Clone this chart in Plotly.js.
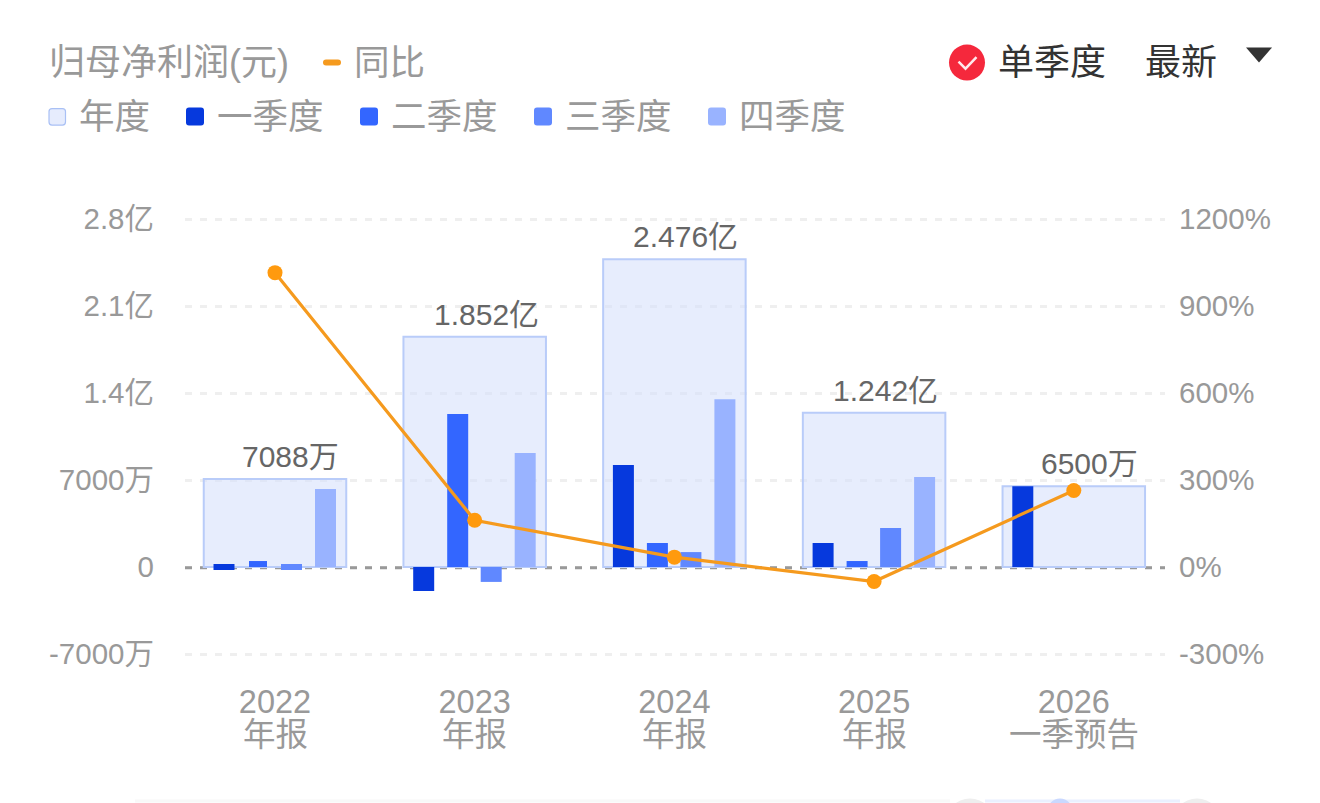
<!DOCTYPE html>
<html><head><meta charset="utf-8">
<script src="https://cdn.plot.ly/plotly-3.0.1.min.js"></script>
<style>html,body{margin:0;padding:0;background:#fff;overflow:hidden}</style></head>
<body><div id="chart" style="width:1320px;height:803px"></div>
<script>
// Data (profit in units of 万元, YoY in %)
const years = ['2022','2023','2024','2025','2026'];
const periods = ['年报','年报','年报','年报','一季预告'];
const annual = [7088,18520,24760,12420,6500];
const annualLabels = ['7088万','1.852亿','2.476亿','1.242亿','6500万'];
const q1 = [480,-1930,8200,1930,6500];
const q1Base = [-240,0,0,0,0];
const q2 = [480,12310,1930,480,0];
const q3 = [480,-1200,1200,3140,0];
const q3Base = [-240,0,0,0,0];
const q4 = [6275,9170,13500,7240,0];
const yoy = [1015,161,34,-50,264];
const leftTickVals = [28000,21000,14000,7000,0,-7000];
const leftTickText = ['2.8亿','2.1亿','1.4亿','7000万','0','-7000万'];
const rightTickVals = [1200,900,600,300,0,-300];
const rightTickText = ['1200%','900%','600%','300%','0%','-300%'];

const FONT = '"Liberation Sans","Noto Sans CJK SC",sans-serif';
const GRAY='#999999', DARK='#333333', MID='#666666';
const C_Y='rgba(214,224,252,0.58)', C_YS='#E6ECFD', C_YB='#B9CCF9', C1='#0639DD', C2='#3366FF', C3='#6088FF', C4='#99B3FF', OR='#F59A1E';

// plot box is 4px larger than the outer gridlines so those are not clipped
const PAD=4, PL=185, PR=1165, PT=219.4-PAD, PB=654.4+PAD;
const X=p=>(p-PL)/(PR-PL), Y=p=>(PB-p)/(PB-PT);
const U=199.7;
const rr=(x0,y0,x1,y1,r)=>`M${X(x0+r)},${Y(y0)} L${X(x1-r)},${Y(y0)} Q${X(x1)},${Y(y0)} ${X(x1)},${Y(y0+r)} L${X(x1)},${Y(y1-r)} Q${X(x1)},${Y(y1)} ${X(x1-r)},${Y(y1)} L${X(x0+r)},${Y(y1)} Q${X(x0)},${Y(y1)} ${X(x0)},${Y(y1-r)} L${X(x0)},${Y(y0+r)} Q${X(x0)},${Y(y0)} ${X(x0+r)},${Y(y0)} Z`;
const pathShape=(path,fill,line,lw)=>({type:'path',xref:'paper',yref:'paper',path,fillcolor:fill,line:{color:line||'rgba(0,0,0,0)',width:lw||0},layer:'above'});
const rect=(x0,y0,x1,y1,fill)=>({type:'rect',xref:'paper',yref:'paper',x0:X(x0),x1:X(x1),y0:Y(y1),y1:Y(y0),fillcolor:fill,line:{width:0},layer:'below'});
const circ=(cx,cy,r,fill,layer)=>({type:'circle',xref:'paper',yref:'paper',x0:X(cx-r),x1:X(cx+r),y0:Y(cy+r),y1:Y(cy-r),fillcolor:fill,line:{width:0},layer:layer||'above'});
const txt=(text,x,y,color,size,anchor)=>({text,xref:'paper',yref:'paper',x:X(x),y:Y(y),xanchor:anchor||'left',yanchor:'middle',showarrow:false,font:{family:FONT,size,color},borderpad:0});

const qBar=(name,vals,offPx,color,extra)=>Object.assign({type:'bar',name,x:years,y:vals,yaxis:'y',marker:{color,line:{width:0}},width:21/U,offset:(offPx-10.5)/U,hoverinfo:'skip',showlegend:false},extra||{});

const traces=[
 {type:'bar',name:'年度',x:years,y:annual,width:142.5/U,offset:-71.25/U,marker:{color:C_Y,line:{color:C_YB,width:2}},hoverinfo:'skip',showlegend:false},
 qBar('一季度',q1,-51,C1,{base:q1Base}),
 qBar('二季度',q2,-17,C2,{width:years.map((_,i)=>(i===0?18:21)/U),offset:years.map((_,i)=>(i===0?-26:-27.5)/U)}),
 qBar('三季度',q3,16.5,C3,{base:q3Base}),
 qBar('四季度',q4,50.5,C4),
 {type:'scatter',mode:'lines+markers',name:'同比',x:years,y:yoy,yaxis:'y2',line:{color:OR,width:3.2},marker:{color:'#FF9A0E',size:15},hoverinfo:'skip',showlegend:false}
];

const annotations=[
 txt('归母净利润(元)',47.5,63,GRAY,36),
 txt('同比',353,63,GRAY,35.5),
 txt('年度',78,117,GRAY,35.5),
 txt('一季度',216,117,GRAY,35.5),
 txt('二季度',390,117,GRAY,35.5),
 txt('三季度',564,117,GRAY,35.5),
 txt('四季度',738,117,GRAY,35.5),
 txt('单季度',997,63,DARK,36),
 txt('最新',1144,63,DARK,36)
];
annualLabels.forEach((t,i)=>annotations.push({text:t,xref:'x',yref:'y',x:i,y:annual[i],xanchor:'right',yanchor:'bottom',xshift:65,yshift:5,showarrow:false,font:{family:FONT,size:30,color:MID},borderpad:0}));
periods.forEach((t,i)=>annotations.push({text:t,xref:'x',yref:'paper',x:i,y:Y(735),xanchor:'center',yanchor:'middle',showarrow:false,font:{family:FONT,size:32.5,color:GRAY},borderpad:0}));

const XMIN=-90/U, XMAX=-90/U+980/U;
const shapes=[
 {type:'line',xref:'x',yref:'y',x0:XMIN,x1:XMAX,y0:-60,y1:-60,line:{color:'#999999',width:3,dash:'7px,8px'},layer:'between'},
 pathShape(rr(323,60,341,66,3),OR),
 pathShape(rr(49,109,65.5,125.5,3),C_YS,'#A9C0F5',1.2),
 pathShape(rr(186,108,204,126,3),C1),
 pathShape(rr(360,108,378,126,3),C2),
 pathShape(rr(534,108,552,126,3),C3),
 pathShape(rr(708,108,726,126,3),C4),
 circ(967,63,18,'#F5283C'),
 {type:'path',xref:'paper',yref:'paper',path:`M${X(958.5)},${Y(62)} L${X(965.5)},${Y(69)} L${X(976.5)},${Y(57.5)}`,line:{color:'#FFE9EC',width:2.5},fillcolor:'rgba(0,0,0,0)',layer:'above'},
 pathShape(`M${X(1246)},${Y(48)} L${X(1272)},${Y(48)} L${X(1259)},${Y(63)} Z`,DARK),
 rect(135,800,950,803,'#F8F8F8'),
 rect(985,800,1180,803,'#EAF0FF'),
 circ(970,824,25,'#EEEEEE','below'),
 circ(1197,824,25,'#EEEEEE','below'),
 circ(1060,812,13,'#C9D8FF','below')
];

const PER_PX_L=7000/87, PER_PX_R=300/87;
const layout={
 width:1320,height:803,paper_bgcolor:'#fff',plot_bgcolor:'rgba(0,0,0,0)',showlegend:false,barmode:'overlay',
 margin:{l:PL,r:1320-PR,t:PT,b:803-PB,pad:0},
 font:{family:FONT,color:GRAY},
 xaxis:{type:'category',range:[XMIN,XMAX],tickmode:'array',tickvals:years,ticktext:years,tickfont:{family:FONT,size:32.5,color:GRAY},showgrid:false,zeroline:false,showline:false,ticks:'',ticklabelstandoff:21,fixedrange:true},
 yaxis:{range:[-7000-PAD*PER_PX_L,28000+PAD*PER_PX_L],tickmode:'array',tickvals:leftTickVals,ticktext:leftTickText,tickfont:{family:FONT,size:29.5,color:GRAY},showgrid:true,gridcolor:'#EFEFEF',gridwidth:3,griddash:'7px,8px',zeroline:false,showline:false,ticks:'',ticklabelstandoff:30,fixedrange:true},
 yaxis2:{overlaying:'y',side:'right',range:[-300-PAD*PER_PX_R,1200+PAD*PER_PX_R],tickmode:'array',tickvals:rightTickVals,ticktext:rightTickText,tickfont:{family:FONT,size:29.5,color:GRAY},showgrid:false,zeroline:false,showline:false,ticks:'',ticklabelstandoff:13,fixedrange:true},
 annotations,shapes
};
Plotly.newPlot('chart',traces,layout,{staticPlot:true,displayModeBar:false});
</script></body></html>
